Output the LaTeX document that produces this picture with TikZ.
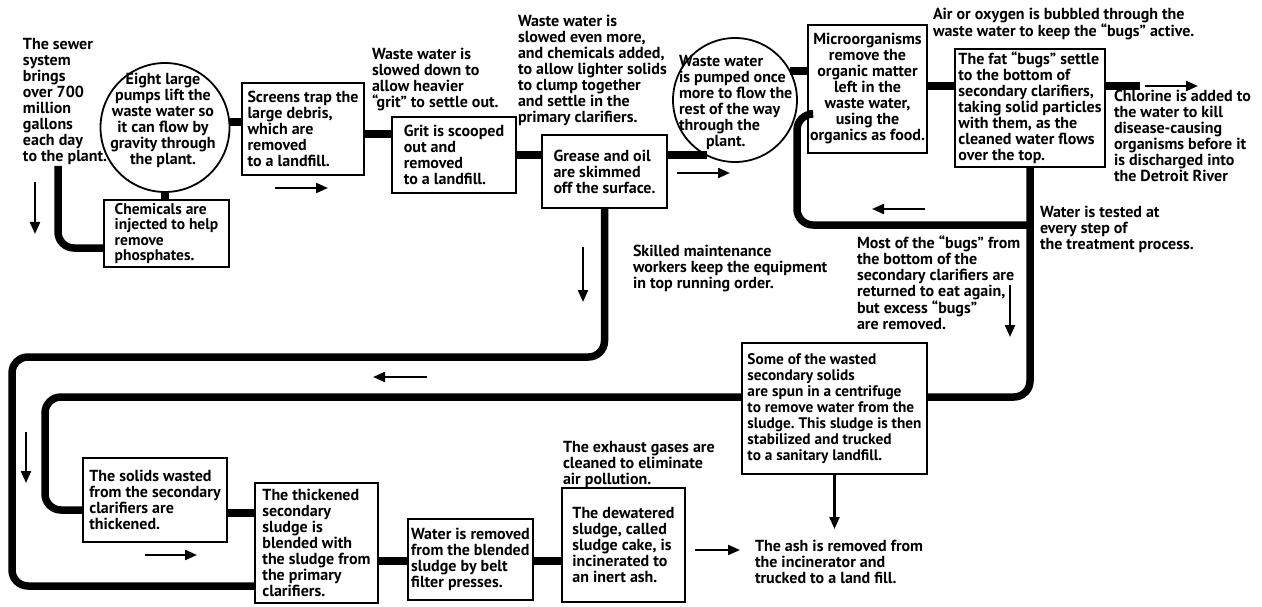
\documentclass[tikz,border=0pt]{standalone}
\usepackage{fontspec}
\setmainfont{PT Sans}
\usetikzlibrary{arrows.meta}
\frenchspacing
\begin{document}
\begin{tikzpicture}[x=1pt,y=-1pt,
  txt/.style={font=\fontsize{16}{16}\selectfont\bfseries, inner sep=0pt, outer sep=0pt, align=left, anchor=north west},
  box/.style={draw, line width=1.8pt, font=\fontsize{16}{16}\selectfont\bfseries, align=left, inner sep=0pt, outer sep=0pt, anchor=north west},
  circ/.style={draw, circle, line width=1.8pt, inner sep=0pt, outer sep=0pt},
  pipe/.style={line width=7.5pt, rounded corners=16pt},
  flow/.style={line width=2.2pt, -{Triangle[length=12pt,width=10pt]}}
]
\useasboundingbox (0,0) rectangle (1262,607);

% ---------- top row ----------
\node[txt] (sewer) at (23,38) {The sewer\\system\\brings\\over 700\\million\\gallons\\each day\\to the plant.};
\coordinate (sewerout) at (58,166);

\node[circ, minimum size=129pt] (c1) at (165,127.5) {};
\node[font=\fontsize{16}{16}\selectfont\bfseries, align=center, inner sep=0pt] (c1t) at (163,120) {Eight large\\pumps lift the\\waste water so\\it can flow by\\gravity through\\the plant.};

\node[box, font=\fontsize{15.5}{15.5}\selectfont\bfseries, minimum width=125pt, minimum height=67pt] (chem) at (104,200) {Chemicals are\\injected to help\\remove\\phosphates.};

\node[box, minimum width=122pt, minimum height=92pt] (screens) at (242,83) {Screens trap the\\large debris,\\which are\\removed\\to a landfill.};

\node[txt] (gritnote) at (372,48) {Waste water is\\slowed down to\\allow heavier\\``grit'' to settle out.};
\node[box, minimum width=124pt, minimum height=76pt] (grit) at (392,117) {Grit is scooped\\out and\\removed\\to a landfill.};

\node[txt] (greasenote) at (518,15) {Waste water is\\slowed even more,\\and chemicals added,\\to allow lighter solids\\to clump together\\and settle in the\\primary clarifiers.};
\node[box, minimum width=125pt, minimum height=73pt] (grease) at (542,135) {Grease and oil\\are skimmed\\off the surface.};

\node[circ, minimum size=124pt] (c2) at (735,100) {};
\node[txt] (c2t) at (679,55) {Waste water\\is pumped once\\more to flow the\\rest of the way\\through the\\\hspace*{27pt}plant.};

\node[box, align=center, minimum width=119pt, minimum height=128pt] (micro) at (808,25) {Microorganisms\\remove the\\organic matter\\left in the\\waste water,\\using the\\organics as food.};

\node[txt, font=\fontsize{16}{15}\selectfont\bfseries] (air) at (933,8) {Air or oxygen is bubbled through the\\waste water to keep the ``bugs'' active.};
\node[box, minimum width=150pt, minimum height=118pt] (fat) at (955,49) {The fat ``bugs'' settle\\to the bottom of\\secondary clarifiers,\\taking solid particles\\with them, as the\\cleaned water flows\\over the top.};
\coordinate (fatout) at (1140,86);

\node[txt] (chlorine) at (1114,90) {Chlorine is added to\\the water to kill\\disease-causing\\organisms before it\\is discharged into\\the Detroit River};
\node[txt] (tested) at (1040,206) {Water is tested at\\every step of\\the treatment process.};

\node[txt] (maint) at (633,245) {Skilled maintenance\\workers keep the equipment\\in top running order.};
\node[txt] (bugs) at (857,236) {Most of the ``bugs'' from\\the bottom of the\\secondary clarifiers are\\returned to eat again,\\but excess ``bugs''\\are removed.};

% ---------- bottom part ----------
\node[box, font=\fontsize{15.3}{16}\selectfont\bfseries, minimum width=185pt, minimum height=131pt] (some) at (742,343) {Some of the wasted\\secondary solids\\are spun in a centrifuge\\to remove water from the\\sludge. This sludge is then\\stabilized and trucked\\to a sanitary landfill.};

\node[box, minimum width=144pt, minimum height=84pt] (solids) at (83,458) {The solids wasted\\from the secondary\\clarifiers are\\thickened.};
\node[box, minimum width=123pt, minimum height=120pt] (blended) at (255,483) {The thickened\\secondary\\sludge is\\blended with\\the sludge from\\the primary\\clarifiers.};
\node[box, minimum width=125pt, minimum height=81pt] (water) at (408,519) {Water is removed\\from the blended\\sludge by belt\\filter presses.};
\node[txt] (exhaust) at (563,441) {The exhaust gases are\\cleaned to eliminate\\air pollution.};
\node[box, minimum width=123pt, minimum height=114pt] (dewatered) at (562,488) {The dewatered\\sludge, called\\sludge cake, is\\incinerated to\\an inert ash.};
\node[txt] (ash) at (755,540) {The ash is removed from\\the incinerator and\\trucked to a land fill.};

% ---------- pipes ----------
\draw[pipe] (sewerout) -- (58,248) -- (chem.west |- 0,248);
\draw[pipe] (c1.south) -- (c1.south |- chem.north);
\draw[pipe] (c1.5) -- (screens.west |- c1.5);
\draw[pipe] (screens.east |- 0,134) -- (grit.west |- 0,134);
\draw[pipe] (grit.east |- 0,155) -- (grease.west |- 0,155);
\draw[pipe] (grease.east |- c2.-117.5) -- (c2.-117.5);
\draw[pipe] (c2.28) -- (micro.west |- c2.28);
\draw[pipe] (micro.east |- 0,86) -- (fat.west |- 0,86);
\draw[pipe] (fat.east |- fatout) -- (fatout);
\draw[pipe] (fat.south) -- (fat.south |- 0,397) -- (some.east |- 0,397);
\draw[pipe] (micro.west |- 0,114) -- (797,114) -- (797,225) -- (fat.south |- 0,225);
\draw[pipe] (grease.south) -- (grease.south |- 0,357) -- (12,357) -- (12,586) -- (blended.west |- 0,586);
\draw[pipe] (some.west |- 0,397) -- (45,397) -- (45,510) -- (solids.west |- 0,510);
\draw[pipe] (solids.east |- 0,513) -- (blended.west |- 0,513);
\draw[pipe] (blended.east |- 0,561) -- (water.west |- 0,561);
\draw[pipe] (water.east |- 0,561) -- (dewatered.west |- 0,561);

% ---------- flow arrows ----------
\draw[flow] (35,182) -- (35,234);
\draw[flow] (275,188) -- (328,188);
\draw[flow] (677,173) -- (730,173);
\draw[flow] (925,209) -- (872,209);
\draw[flow] (1145,86) -- (1198,86);
\draw[flow] (1010,285) -- (1010,337);
\draw[flow] (583,247) -- (583,302);
\draw[flow] (427,377) -- (373,377);
\draw[flow] (26,432) -- (26,483);
\draw[flow] (145,555) -- (197,555);
\draw[flow] (some.south) -- ++(0,55);
\draw[flow] (695,550) -- (740,550);
\end{tikzpicture}
\end{document}
